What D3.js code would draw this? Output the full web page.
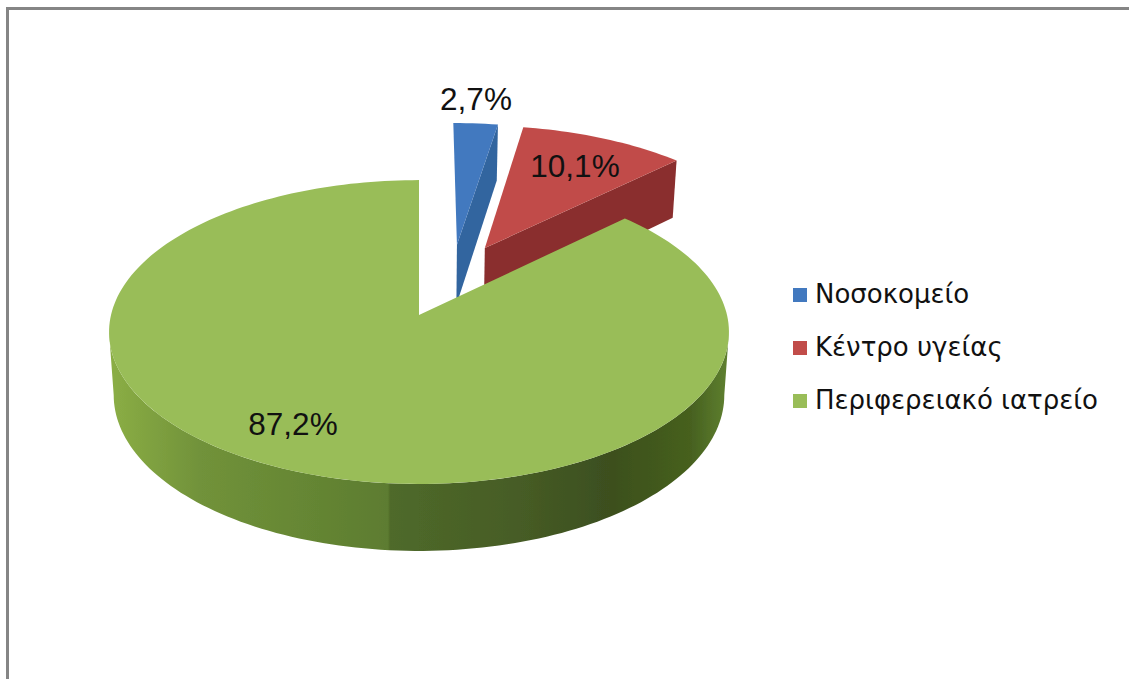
<!DOCTYPE html>
<html>
<head>
<meta charset="utf-8">
<script src="https://cdn.jsdelivr.net/npm/d3@7"></script>
<style>
html, body { margin: 0; padding: 0; background: #fff; }
svg { display: block; }
text { font-family: "Liberation Sans", Arial, sans-serif; fill: #111; }
.legend text { font-family: "DejaVu Sans", sans-serif; }
</style>
</head>
<body>
<svg width="1129" height="679"></svg>
<script>
const categories = ["Νοσοκομείο", "Κέντρο υγείας", "Περιφερειακό ιατρείο"];
const values = [2.7, 10.1, 87.2];

const topColors = ["#4279bf", "#c14c49", "#99bd58"];
const sideColors = ["#33659f", "#8a2f2d", "#5d7c30"];

const svg = d3.select("svg");
const persp = 0.112;

const x = d3.scaleLinear().domain([-1, 1]).range([111, 727]);
const y = d3.scaleLinear().domain([-1, 1]).range([165, 465]);

// circle coords to screen, the far side of the disc comes out smaller
function project(u, v, low) {
    const w = 1 - persp * v;
    const xs = low ? 0.985 : 1;
    return [x(xs * u / w), y(v / w) + (low ? 62.5 + 4.5 * v : 0)];
}

const line = d3.line();
const slices = d3.pie().sort(null).value(d => d)(values);

// pulled out slices, in units of the pie radius
const shifts = [[0.13, -0.494], [0.225, -0.47], [0, 0]];

function rim(start, end, shift, low) {
    const n = Math.max(2, Math.ceil((end - start) * 40));
    return d3.range(n + 1).map(i => {
        const a = start + (end - start) * i / n;
        return project(Math.sin(a) + shift[0], -Math.cos(a) + shift[1], low);
    });
}

const defs = svg.append("defs");
const wallStops = [
    [110, "#8bae45"], [200, "#71923a"], [300, "#668734"], [388, "#5d7c30"],
    [390, "#4f6a2a"], [520, "#465c25"], [610, "#3c4f1f"], [690, "#46601f"], [728, "#5f8030"]
];
defs.append("linearGradient").attr("id", "greenWall")
    .attr("gradientUnits", "userSpaceOnUse")
    .attr("x1", 108).attr("x2", 728).attr("y1", 0).attr("y2", 0)
    .selectAll("stop").data(wallStops).join("stop")
    .attr("offset", d => (d[0] - 108) / 620)
    .attr("stop-color", d => d[1]);
defs.append("filter").attr("id", "soft")
    .append("feGaussianBlur").attr("stdDeviation", 0.5);

// frame, open on the right and at the bottom
svg.append("path")
    .attr("d", line([[7.5, 679], [7.5, 8.5], [1129, 8.5]]))
    .attr("fill", "none").attr("stroke", "#858585").attr("stroke-width", 3);

const pie = svg.append("g").attr("filter", "url(#soft)");

slices.forEach((d, i) => {
    const s = shifts[i];
    const apexTop = project(s[0], s[1], false);
    const apexLow = project(s[0], s[1], true);
    const topRim = rim(d.startAngle, d.endAngle, s, false);

    if (i < 2) {
        // radial face on the clockwise end of the slice
        const endTop = topRim[topRim.length - 1];
        const endLow = rim(d.endAngle, d.endAngle, s, true)[0];
        pie.append("path")
            .attr("d", line([apexTop, endTop, endLow, apexLow]) + "Z")
            .attr("fill", sideColors[i]);
    } else {
        // wall between the two points where the outline turns
        const wallStart = Math.acos(-persp), wallEnd = Math.PI * 2 - wallStart;
        const wallTop = rim(wallStart, wallEnd, s, false);
        const wallLow = rim(wallStart, wallEnd, s, true);
        pie.append("path")
            .attr("d", line(wallTop.concat(wallLow.reverse())) + "Z")
            .attr("fill", "url(#greenWall)");
    }

    pie.append("path")
        .attr("d", line([apexTop].concat(topRim)) + "Z")
        .attr("fill", topColors[i]);
});

const labelPos = [[476, 110], [575, 177], [293, 435]];
svg.append("g").selectAll("text").data(values).join("text")
    .attr("x", (d, i) => labelPos[i][0])
    .attr("y", (d, i) => labelPos[i][1])
    .attr("text-anchor", "middle")
    .attr("font-size", 31.5)
    .text(d => String(d).replace(".", ",") + "%");

const legendY = d3.scalePoint().domain(categories).range([303, 409]);
const legend = svg.append("g").attr("class", "legend")
    .selectAll("g").data(categories).join("g")
    .attr("transform", d => "translate(793," + legendY(d) + ")");
legend.append("rect")
    .attr("y", -15).attr("width", 14).attr("height", 14)
    .attr("fill", (d, i) => topColors[i]);
legend.append("text")
    .attr("x", 22)
    .attr("font-size", 26)
    .text(d => d);
</script>
</body>
</html>
